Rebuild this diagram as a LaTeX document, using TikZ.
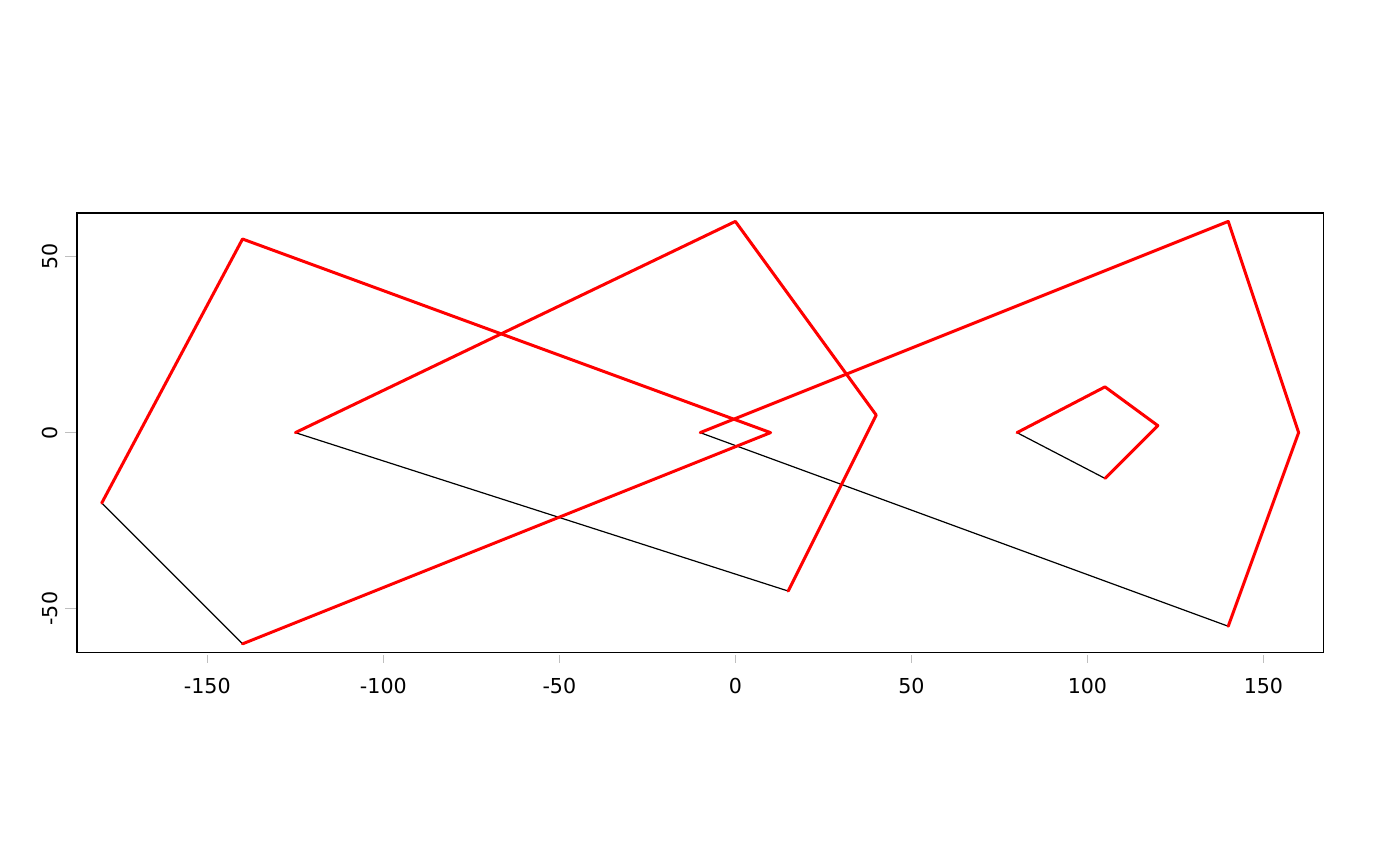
\documentclass[tikz,border=0pt]{standalone}
\usepackage{fontspec}
\setmainfont{DejaVu Sans}
\usetikzlibrary{positioning}

\begin{document}
\begin{tikzpicture}[x=1.76pt,y=1.76pt,
    ring/.style={red,line width=1.5pt,line join=round,line cap=round},
    closing/.style={black,line width=0.6pt},
    axtick/.style={black!25,line width=0.7pt},
    ticklabel/.style={font=\fontsize{10.3}{12}\selectfont,inner sep=0pt}]
    \useasboundingbox (-208.9,-123.1) rectangle (188.8,122.9);

    % frame and axes
    \draw[line width=0.6pt] (-187,-62.5) rectangle (167,62.4);
    \foreach \x in {-150,-100,...,150} {
        \draw[axtick] (\x,-63.2) -- (\x,-65.4);
        \node[ticklabel] (xl\x) at (\x,-72) {\x};
    }
    \foreach \y in {-50,0,50} {
        \draw[axtick] (-190.4,\y) -- (-187.3,\y);
        \node[ticklabel,rotate=90] (yl\y) at (-194.7,\y) {\y};
    }

    % corner points of the four rings
    \coordinate (a1) at (-180,-20); \coordinate (a2) at (-140,55);
    \coordinate (a3) at (10,0);     \coordinate (a4) at (-140,-60);
    \coordinate (b1) at (-125,0);   \coordinate (b2) at (0,60);
    \coordinate (b3) at (40,5);     \coordinate (b4) at (15,-45);
    \coordinate (c1) at (-10,0);    \coordinate (c2) at (140,60);
    \coordinate (c3) at (160,0);    \coordinate (c4) at (140,-55);
    \coordinate (d1) at (80,0);     \coordinate (d2) at (105,13);
    \coordinate (d3) at (120,2);    \coordinate (d4) at (105,-13);

    % closing edges in black, the rest in red
    \foreach \r in {a,b,c,d} {
        \draw[closing] (\r4) -- (\r1);
    }
    \foreach \r in {a,b,c,d} {
        \draw[ring] (\r1) -- (\r2) -- (\r3) -- (\r4);
    }
\end{tikzpicture}
\end{document}
